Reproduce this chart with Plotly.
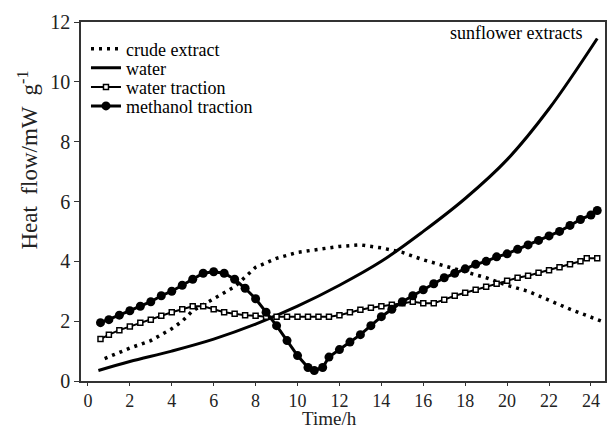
import plotly.graph_objects as go

# ---- data ----
time_crude = [0.8, 1.5, 2.0, 3.0, 4.0, 4.5, 5.0, 6.0, 7.0, 8.0, 9.0, 10.0, 11.0, 12.0,
              13.0, 14.0, 15.0, 16.0, 17.0, 18.0, 19.0, 20.0, 21.0, 22.0, 23.0, 24.5]
heat_crude = [0.75, 0.95, 1.1, 1.35, 1.75, 2.0, 2.35, 2.75, 3.15, 3.8, 4.1, 4.3, 4.4, 4.5,
              4.55, 4.45, 4.3, 4.05, 3.85, 3.65, 3.45, 3.2, 3.0, 2.7, 2.4, 2.0]

time_water = [0.5, 2, 4, 6, 8, 10, 12, 14, 16, 18, 20, 22, 24.3]
heat_water = [0.35, 0.65, 1.0, 1.4, 1.9, 2.5, 3.2, 4.0, 5.0, 6.1, 7.4, 9.1, 11.45]

time_wtrac = [0.6, 1.0, 1.5, 2.0, 2.5, 3.0, 3.5, 4.0, 4.5, 5.0, 5.5, 6.0, 6.5, 7.0, 7.5, 8.0,
              8.5, 9.0, 9.5, 10.0, 10.5, 11.0, 11.5, 12.0, 12.5, 13.0, 13.5, 14.0, 14.5, 15.0,
              15.5, 16.0, 16.5, 17.0, 17.5, 18.0, 18.5, 19.0, 19.5, 20.0, 20.5, 21.0, 21.5,
              22.0, 22.5, 23.0, 23.5, 23.8, 24.3]
heat_wtrac = [1.4, 1.55, 1.7, 1.82, 1.95, 2.05, 2.18, 2.3, 2.4, 2.5, 2.5, 2.4, 2.3, 2.25, 2.2,
              2.18, 2.15, 2.15, 2.15, 2.15, 2.15, 2.15, 2.15, 2.2, 2.3, 2.38, 2.45, 2.5, 2.55,
              2.6, 2.65, 2.6, 2.6, 2.72, 2.85, 2.95, 3.05, 3.15, 3.25, 3.35, 3.45, 3.52, 3.62,
              3.7, 3.8, 3.9, 4.0, 4.1, 4.1]

time_mtrac = [0.6, 1.0, 1.5, 2.0, 2.5, 3.0, 3.5, 4.0, 4.5, 5.0, 5.5, 6.0, 6.5, 7.0, 7.5, 8.0,
              8.5, 9.0, 9.5, 10.0, 10.5, 10.8, 11.2, 11.5, 12.0, 12.5, 13.0, 13.5, 14.0, 14.5,
              15.0, 15.5, 16.0, 16.5, 17.0, 17.5, 18.0, 18.5, 19.0, 19.5, 20.0, 20.5, 21.0,
              21.5, 22.0, 22.5, 23.0, 23.5, 24.0, 24.3]
heat_mtrac = [1.95, 2.05, 2.2, 2.35, 2.5, 2.65, 2.85, 3.0, 3.2, 3.4, 3.6, 3.65, 3.6, 3.4, 3.1,
              2.75, 2.3, 1.85, 1.35, 0.85, 0.45, 0.35, 0.45, 0.8, 1.05, 1.3, 1.55, 1.85, 2.15,
              2.4, 2.65, 2.85, 3.05, 3.25, 3.45, 3.6, 3.75, 3.9, 4.0, 4.15, 4.25, 4.4, 4.55,
              4.7, 4.85, 5.0, 5.2, 5.4, 5.55, 5.7]

x_ticks = [0, 2, 4, 6, 8, 10, 12, 14, 16, 18, 20, 22, 24]
y_ticks = [0, 2, 4, 6, 8, 10, 12]

FONT = '"Liberation Serif", "Times New Roman", serif'

fig = go.Figure()
fig.add_trace(go.Scatter(x=time_crude, y=heat_crude, mode="lines", name="crude extract",
                         line=dict(color="black", width=3.5, dash="3px,5px"), legend="legend"))
fig.add_trace(go.Scatter(x=time_water, y=heat_water, mode="lines", name="water",
                         line=dict(color="black", width=3, shape="spline"), legend="legend2"))
fig.add_trace(go.Scatter(x=time_wtrac, y=heat_wtrac, mode="lines+markers", name="water traction",
                         line=dict(color="black", width=2),
                         marker=dict(symbol="square", size=5, color="white",
                                     line=dict(color="black", width=1.5)),
                         legend="legend3"))
fig.add_trace(go.Scatter(x=time_mtrac, y=heat_mtrac, mode="lines+markers", name="methanol traction",
                         line=dict(color="black", width=3),
                         marker=dict(symbol="circle", size=9, color="black"),
                         legend="legend4"))

leg_common = dict(x=0.0095, xanchor="left", yanchor="middle", bgcolor="rgba(0,0,0,0)",
                  borderwidth=0, font=dict(family=FONT, size=18, color="black"),
                  tracegroupgap=0)

fig.update_layout(
    width=611, height=430,
    margin=dict(l=81, r=4, t=22, b=49),
    plot_bgcolor="white", paper_bgcolor="white",
    font=dict(family=FONT, color="#222"),
    showlegend=True,
    legend=dict(y=0.9246, **leg_common),
    legend2=dict(y=0.8715, **leg_common),
    legend3=dict(y=0.8184, **leg_common),
    legend4=dict(y=0.7654, **leg_common),
    xaxis=dict(range=[-0.33, 24.67], tickvals=x_ticks, ticks="outside", ticklen=3,
               tickwidth=1.2, tickcolor="#333", showline=True, linecolor="#333", linewidth=1.5,
               mirror=True, showgrid=False, zeroline=False,
               tickfont=dict(family=FONT, size=18, color="#222")),
    yaxis=dict(range=[0, 12], tickvals=y_ticks, ticks="outside", ticklen=5,
               tickwidth=1.2, tickcolor="#333", showline=True, linecolor="#333", linewidth=1.5,
               mirror=True, showgrid=False, zeroline=False,
               tickfont=dict(family=FONT, size=20, color="#222")),
    annotations=[
        dict(text="sunflower extracts", xref="paper", yref="paper", x=0.96, y=0.969,
             xanchor="right", yanchor="middle", showarrow=False,
             font=dict(family=FONT, size=18, color="black")),
        dict(text="Time/h", xref="paper", yref="paper", x=(330 - 81) / 526, y=-(430 - 381) / 359,
             xanchor="center", yanchor="bottom", showarrow=False, borderpad=0,
             font=dict(family=FONT, size=19, color="#222")),
        dict(text="Heat  flow/mW  g<sup>-1</sup>", xref="paper", yref="paper",
             x=-(81 - 28) / 526, y=(380 - 160) / 358, xanchor="center", yanchor="middle",
             textangle=-90, showarrow=False,
             font=dict(family=FONT, size=23, color="#222")),
    ],
)

fig.write_html("out.html")
